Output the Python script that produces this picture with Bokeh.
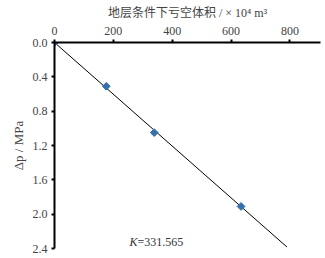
from bokeh.plotting import figure
from bokeh.models import Range1d, FixedTicker, NumeralTickFormatter, Label, ColumnDataSource
from bokeh.embed import file_html
from bokeh.resources import INLINE
import math

# data
volume = [0, 176, 339, 634]          # 地层条件下亏空体积 (×10^4 m^3)
delta_p = [0.0, 0.51, 1.05, 1.91]    # Δp (MPa)
K = 331.565
fit_x = [0, 790]
fit_y = [v / K for v in fit_x]
x_ticks = [0, 200, 400, 600, 800]
y_ticks = [0.0, 0.4, 0.8, 1.2, 1.6, 2.0, 2.4]

SERIF = "Liberation Serif, Noto Sans CJK SC"

p = figure(width=325, height=258, output_backend="svg", toolbar_location=None,
           x_axis_location="above", x_range=Range1d(0, 904), y_range=Range1d(2.4, 0),
           min_border_left=54, min_border_right=5, min_border_top=42, min_border_bottom=10)
p.outline_line_color = None
p.xgrid.visible = False
p.ygrid.visible = False
p.background_fill_color = "white"
p.border_fill_color = "white"

for ax in (p.xaxis[0], p.yaxis[0]):
    ax.axis_line_color = "black"
    ax.axis_line_width = 2
    ax.major_tick_line_color = "black"
    ax.major_tick_line_width = 2
    ax.major_tick_out = 3
    ax.major_tick_in = 0
    ax.minor_tick_line_color = None
    ax.major_label_text_font = SERIF
    ax.major_label_text_font_size = "12px"
    ax.major_label_text_color = "#444444"
    ax.axis_label_text_font = SERIF
    ax.axis_label_text_font_style = "normal"
    ax.axis_label_text_color = "#444444"

p.xaxis.axis_label_text_font_size = "12px"
p.yaxis.axis_label_text_font_size = "13px"
p.xaxis.ticker = FixedTicker(ticks=x_ticks)
p.yaxis.ticker = FixedTicker(ticks=y_ticks)
p.yaxis.formatter = NumeralTickFormatter(format="0.0")
p.xaxis.axis_label = "地层条件下亏空体积 / × 10⁴ m³"
p.yaxis.axis_label = "Δp / MPa"
p.xaxis.major_label_standoff = 5
p.yaxis.major_label_standoff = 4
p.xaxis.axis_label_standoff = 4
p.yaxis.axis_label_standoff = 4

p.line(fit_x, fit_y, line_color="black", line_width=1)
src = ColumnDataSource(dict(x=volume, y=delta_p))
p.scatter("x", "y", source=src, marker="square", size=5.5, angle=math.pi / 4,
          fill_color="#3470ad", line_color="#3470ad")

p.add_layout(Label(x=255, y=2.33, text="K", text_font=SERIF, text_font_style="italic",
                   text_font_size="12px", text_color="#333333", text_baseline="middle"))
p.add_layout(Label(x=255, y=2.33, x_offset=8, text="=331.565", text_font=SERIF,
                   text_font_size="12px", text_color="#333333", text_baseline="middle"))

open("out.html", "w").write(file_html(p, INLINE))
